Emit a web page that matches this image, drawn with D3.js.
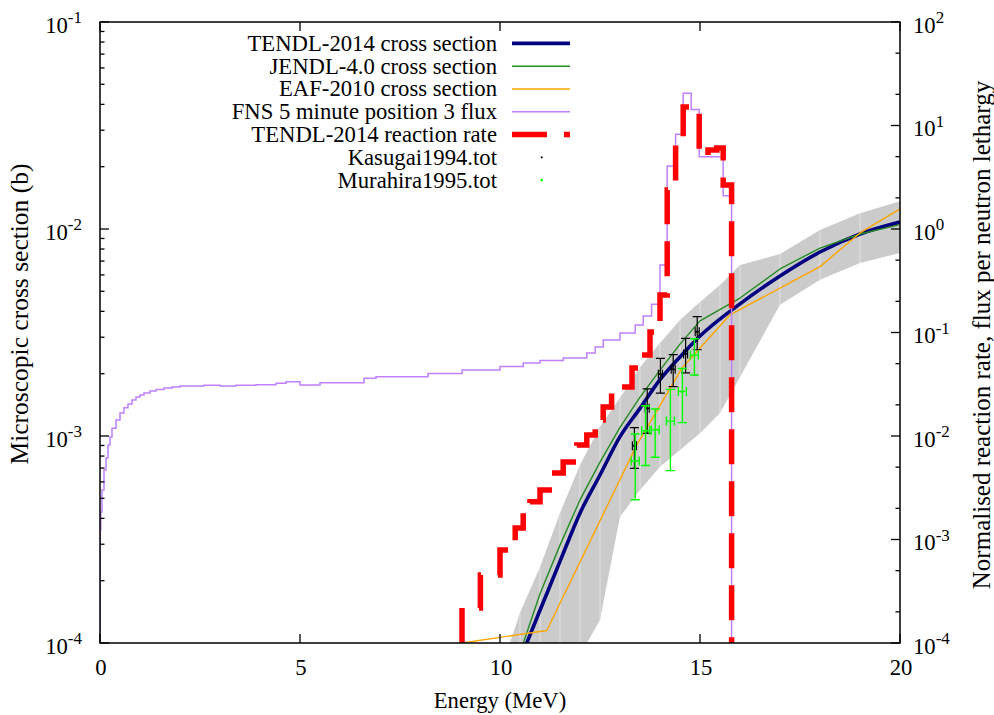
<!DOCTYPE html>
<html><head><meta charset="utf-8">
<script src="https://cdn.jsdelivr.net/npm/d3@7"></script>
<style>
body{margin:0;background:#fff}
svg{display:block}
text{font-family:"Liberation Serif","Times New Roman",Times,serif;fill:#000}
</style>
</head><body>
<svg id="c" width="994" height="715"></svg>
<script>
// ---------------- data ----------------
const xTicks = [0, 5, 10, 15, 20];
const yLeftTicks = [1e-4, 1e-3, 1e-2, 1e-1];
const yRightTicks = [1e-4, 1e-3, 1e-2, 1e-1, 1e0, 1e1, 1e2];

// TENDL-2014 uncertainty band (b)
const bandEnergy = [10, 10.5, 11, 11.5, 12, 12.5, 13, 13.5, 14, 14.5, 15, 15.5, 16, 17, 18, 19, 20];
const bandUpper  = [7.2e-5, 1.40e-4, 2.33e-4, 4.25e-4, 7.24e-4, 1.11e-3, 1.53e-3, 2.15e-3, 2.81e-3, 3.63e-3, 4.44e-3, 5.36e-3, 6.70e-3, 7.57e-3, 9.89e-3, 1.19e-2, 1.36e-2];
const bandLower  = [1.75e-5, 2.7e-5, 4.0e-5, 5.9e-5, 8.75e-5, 1.29e-4, 4.07e-4, 5.48e-4, 7.11e-4, 8.56e-4, 1.03e-3, 1.29e-3, 1.93e-3, 4.30e-3, 5.68e-3, 6.86e-3, 7.66e-3];

// TENDL-2014 cross section (b)
const tendlEnergy = [10.5, 11, 11.5, 12, 12.5, 13, 13.5, 14, 14.5, 15, 16, 17, 18, 19, 20];
const tendlXs     = [8.3e-5, 1.44e-4, 2.48e-4, 4.24e-4, 6.48e-4, 9.93e-4, 1.36e-3, 1.87e-3, 2.41e-3, 3.04e-3, 4.35e-3, 5.93e-3, 7.74e-3, 9.46e-3, 1.08e-2];

// JENDL-4.0 cross section (b)
const jendlEnergy = [10.5, 11, 11.5, 12, 12.5, 13, 13.5, 14, 14.5, 15, 16, 17, 18, 19, 20];
const jendlXs     = [8.95e-5, 1.73e-4, 2.97e-4, 4.91e-4, 7.48e-4, 1.10e-3, 1.54e-3, 2.08e-3, 2.78e-3, 3.60e-3, 4.64e-3, 6.41e-3, 8.09e-3, 9.46e-3, 1.05e-2];

// EAF-2010 cross section (b)
const eafEnergy = [9.05, 11.17, 13.42, 14.55, 15.75, 18, 19, 20];
const eafXs     = [1.0e-4, 1.15e-4, 9.06e-4, 2.13e-3, 3.85e-3, 6.58e-3, 9.57e-3, 1.25e-2];

// FNS 5 minute position 3 flux (per unit lethargy, normalised)
const fluxEdges = [0.001, 0.005, 0.02, 0.05, 0.1, 0.15, 0.2, 0.25, 0.3, 0.4, 0.5, 0.6, 0.7, 0.8, 0.9, 1.0, 1.1, 1.25, 1.4, 1.6, 1.8, 2.0, 2.6, 3.0, 3.4, 3.9, 4.4, 4.65, 5.0, 5.5, 6.6, 6.9, 8.2, 9.05, 10.0, 10.58, 11.0, 11.58, 12.17, 12.38, 12.58, 13.0, 13.38, 13.58, 13.79, 14.0, 14.18, 14.39, 14.58, 14.78, 14.98, 15.58, 15.79];
const fluxValues = [6.34e-4, 1.24e-3, 1.84e-3, 3.0e-3, 4.69e-3, 6.12e-3, 8.18e-3, 9.77e-3, 1.19e-2, 1.43e-2, 1.67e-2, 1.87e-2, 2.04e-2, 2.23e-2, 2.38e-2, 2.49e-2, 2.60e-2, 2.72e-2, 2.81e-2, 2.91e-2, 2.97e-2, 3.04e-2, 3.09e-2, 3.04e-2, 3.09e-2, 3.13e-2, 3.23e-2, 3.35e-2, 3.11e-2, 3.27e-2, 3.61e-2, 3.74e-2, 4.02e-2, 4.35e-2, 4.69e-2, 5.07e-2, 5.36e-2, 5.67e-2, 6.34e-2, 7.24e-2, 8.47e-2, 9.89e-2, 0.118, 0.144, 0.188, 0.449, 4.06, 8.22, 20.5, 14.3, 5.0, 2.10];

// TENDL-2014 reaction rate (normalised)
const rateEdges  = [9.05, 9.51, 10.0, 10.38, 10.58, 10.75, 11.0, 11.3, 11.58, 11.92, 12.17, 12.38, 12.58, 12.79, 13.05, 13.3, 13.55, 13.75, 14.0, 14.18, 14.39, 14.58, 14.78, 14.98, 15.2, 15.42, 15.58, 15.79];
const rateValues = [2.18e-4, 4.54e-4, 7.92e-4, 1.29e-3, 1.80e-3, 2.32e-3, 3.01e-3, 4.39e-3, 5.61e-3, 8.19e-3, 1.02e-2, 1.43e-2, 1.91e-2, 2.60e-2, 2.97e-2, 4.54e-2, 6.06e-2, 0.101, 0.230, 2.38, 6.49, 15.1, 14.1, 5.07, 5.79, 6.07, 2.66];

// Kasugai1994 measurements
const kasugaiE   = [13.36, 13.68, 14.01, 14.33, 14.64, 14.93];
const kasugaiDE  = [0.05, 0.05, 0.05, 0.05, 0.05, 0.05];
const kasugaiXs  = [8.97e-4, 1.36e-3, 1.99e-3, 2.10e-3, 2.49e-3, 3.19e-3];
const kasugaiErr = [2.0e-4, 3.3e-4, 3.8e-4, 3.7e-4, 4.7e-4, 5.8e-4];

// Murahira1995 measurements
const murahiraE   = [13.38, 13.64, 13.88, 14.26, 14.56, 14.86];
const murahiraDE  = [0.1, 0.1, 0.1, 0.1, 0.1, 0.1];
const murahiraXs  = [7.57e-4, 1.06e-3, 1.07e-3, 1.18e-3, 1.64e-3, 2.46e-3];
const murahiraErr = [2.65e-4, 3.4e-4, 2.8e-4, 5.0e-4, 4.8e-4, 4.9e-4];

const legendLabels = ["TENDL-2014 cross section", "JENDL-4.0 cross section", "EAF-2010 cross section",
  "FNS 5 minute position 3 flux", "TENDL-2014 reaction rate", "Kasugai1994.tot", "Murahira1995.tot"];

// ---------------- styles ----------------
const C = {tendl:"#000080", jendl:"#228b22", eaf:"#ffa500", flux:"#c080ff", rate:"#ff0000", kas:"#000000", mur:"#00ff00", band:"#cbcbcb", bandLine:"#e3e3e3"};
const FS = 22.7;

// ---------------- scales ----------------
const L = 100, R = 900, T = 22, B = 643;
const x  = d3.scaleLinear().domain([0, 20]).range([L, R]);
const yL = d3.scaleLog().domain([1e-4, 1e-1]).range([B, T]);
const yR = d3.scaleLog().domain([1e-4, 1e2]).range([B, T]);

const svg = d3.select("#c");
svg.append("rect").attr("width", 994).attr("height", 715).attr("fill", "#fff");
svg.append("defs").append("clipPath").attr("id", "clip")
  .append("rect").attr("x", L).attr("y", T).attr("width", R - L).attr("height", B - T);
const plot = svg.append("g").attr("clip-path", "url(#clip)");

// band
const bandData = bandEnergy.map((e, i) => ({e, lo: bandLower[i], hi: bandUpper[i]}));
plot.append("path").datum(bandData)
  .attr("d", d3.area().x(d => x(d.e)).y0(d => yL(d.lo)).y1(d => yL(d.hi)))
  .attr("fill", C.band);
plot.selectAll("line.bl").data(bandData).join("line").attr("class", "bl")
  .attr("x1", d => x(d.e)).attr("x2", d => x(d.e))
  .attr("y1", d => yL(d.lo)).attr("y2", d => yL(d.hi))
  .attr("stroke", C.bandLine).attr("stroke-width", 1);

// cross-section lines
function xsLine(E, V, color, w, curve) {
  const data = E.map((e, i) => [e, V[i]]);
  plot.append("path").datum(data)
    .attr("d", d3.line().x(d => x(d[0])).y(d => yL(d[1])).curve(curve))
    .attr("fill", "none").attr("stroke", color).attr("stroke-width", w)
    .attr("stroke-linejoin", "round");
}
xsLine(tendlEnergy, tendlXs, C.tendl, 3.6, d3.curveMonotoneX);
xsLine(jendlEnergy, jendlXs, C.jendl, 1.4, d3.curveLinear);
xsLine(eafEnergy, eafXs, C.eaf, 1.4, d3.curveLinear);

// histograms on right axis
function histPoints(edges, vals) {
  const floor = yR.domain()[0];
  const pts = [[edges[0], floor]];
  vals.forEach((v, i) => { pts.push([edges[i], v]); pts.push([edges[i + 1], v]); });
  pts.push([edges[edges.length - 1], floor]);
  return pts;
}
plot.append("path").datum(histPoints(fluxEdges, fluxValues))
  .attr("d", d3.line().x(d => x(d[0])).y(d => yR(d[1])))
  .attr("fill", "none").attr("stroke", C.flux).attr("stroke-width", 1.5);
plot.append("path").datum(histPoints(rateEdges, rateValues))
  .attr("d", d3.line().x(d => x(d[0])).y(d => yR(d[1])))
  .attr("fill", "none").attr("stroke", C.rate).attr("stroke-width", 5.5)
  .attr("stroke-dasharray", "35,17");

// error bars
function errBars(E, dE, V, dV, color, w) {
  const g = plot.append("g").attr("stroke", color).attr("stroke-width", w).attr("fill", "none");
  const cap = 4.5;
  E.forEach((e, i) => {
    const cx = x(e), cy = yL(V[i]);
    const yt = yL(V[i] + dV[i]), yb = yL(V[i] - dV[i]);
    const xl = x(e - dE[i]), xr = x(e + dE[i]);
    const p = d3.path();
    p.moveTo(cx, yb); p.lineTo(cx, yt);
    p.moveTo(cx - cap, yt); p.lineTo(cx + cap, yt);
    p.moveTo(cx - cap, yb); p.lineTo(cx + cap, yb);
    p.moveTo(xl, cy); p.lineTo(xr, cy);
    p.moveTo(xl, cy - cap); p.lineTo(xl, cy + cap);
    p.moveTo(xr, cy - cap); p.lineTo(xr, cy + cap);
    g.append("path").attr("d", p.toString());
    plot.append("rect").attr("x", cx - 1).attr("y", cy - 1).attr("width", 2).attr("height", 2).attr("fill", color);
  });
}
errBars(kasugaiE, kasugaiDE, kasugaiXs, kasugaiErr, C.kas, 1.2);
errBars(murahiraE, murahiraDE, murahiraXs, murahiraErr, C.mur, 1.4);

// ---------------- axes ----------------
const ax = svg.append("g").attr("stroke", "#000").attr("stroke-width", 1.3);
const leftMinor = [];
for (let d = -4; d < -1; d++) for (let m = 2; m <= 9; m++) leftMinor.push(m * Math.pow(10, d));
yLeftTicks.forEach(v => ax.append("line").attr("x1", L).attr("x2", L + 9).attr("y1", yL(v)).attr("y2", yL(v)));
leftMinor.forEach(v => ax.append("line").attr("x1", L).attr("x2", L + 4.5).attr("y1", yL(v)).attr("y2", yL(v)));
const rightMinor = [];
for (let d = -4; d < 2; d++) [2, 5].forEach(m => rightMinor.push(m * Math.pow(10, d)));
yRightTicks.forEach(v => ax.append("line").attr("x1", R).attr("x2", R - 9).attr("y1", yR(v)).attr("y2", yR(v)));
rightMinor.forEach(v => ax.append("line").attr("x1", R).attr("x2", R - 4.5).attr("y1", yR(v)).attr("y2", yR(v)));
xTicks.forEach(t => {
  ax.append("line").attr("x1", x(t)).attr("x2", x(t)).attr("y1", B).attr("y2", B - 9);
  ax.append("line").attr("x1", x(t)).attr("x2", x(t)).attr("y1", T).attr("y2", T + 9);
});
svg.append("rect").attr("x", L).attr("y", T).attr("width", R - L).attr("height", B - T)
  .attr("fill", "none").attr("stroke", "#000").attr("stroke-width", 1.5);

// tick labels
function powLabel(g, scale, v, xpos, anchor) {
  const e = Math.round(Math.log10(v));
  const t = g.append("text").attr("x", xpos).attr("y", scale(v) + 10.8)
    .attr("text-anchor", anchor).attr("font-size", FS);
  t.append("tspan").text("10");
  t.append("tspan").attr("dy", -9.5).attr("font-size", 17).text(String(e));
}
const lab = svg.append("g");
yLeftTicks.forEach(v => powLabel(lab, yL, v, 82, "end"));
yRightTicks.forEach(v => powLabel(lab, yR, v, 913, "start"));
xTicks.forEach(t => lab.append("text").attr("x", x(t) + 1).attr("y", 675)
  .attr("text-anchor", "middle").attr("font-size", FS).text(t));

// axis titles
lab.append("text").attr("x", 500).attr("y", 708).attr("text-anchor", "middle").attr("font-size", FS).text("Energy (MeV)");
lab.append("text").attr("transform", "translate(28,314) rotate(-90)").attr("text-anchor", "middle")
  .attr("font-size", 25.5).text("Microscopic cross section (b)");
lab.append("text").attr("transform", "translate(990,335) rotate(-90)").attr("text-anchor", "middle")
  .attr("font-size", 25).text("Normalised reaction rate, flux per neutron lethargy");

// ---------------- legend ----------------
const leg = svg.append("g");
const styles = [
  {c: C.tendl, w: 3.6}, {c: C.jendl, w: 1.4}, {c: C.eaf, w: 1.4}, {c: C.flux, w: 1.5},
  {c: C.rate, w: 5.5, dash: "35,17"}, {c: C.kas, pt: 1.8}, {c: C.mur, pt: 2.4}
];
legendLabels.forEach((s, i) => {
  const base = 50.7 + i * 22.8;
  leg.append("text").attr("x", 497).attr("y", base).attr("text-anchor", "end").attr("font-size", FS).text(s);
  const st = styles[i], cy = base - 7.3;
  if (st.pt) {
    leg.append("rect").attr("x", 541.7 - st.pt / 2).attr("y", cy - st.pt / 2).attr("width", st.pt).attr("height", st.pt).attr("fill", st.c);
  } else {
    const ln = leg.append("line").attr("x1", 512).attr("x2", 570).attr("y1", cy).attr("y2", cy)
      .attr("stroke", st.c).attr("stroke-width", st.w);
    if (st.dash) ln.attr("stroke-dasharray", st.dash);
  }
});
</script>
</body></html>
